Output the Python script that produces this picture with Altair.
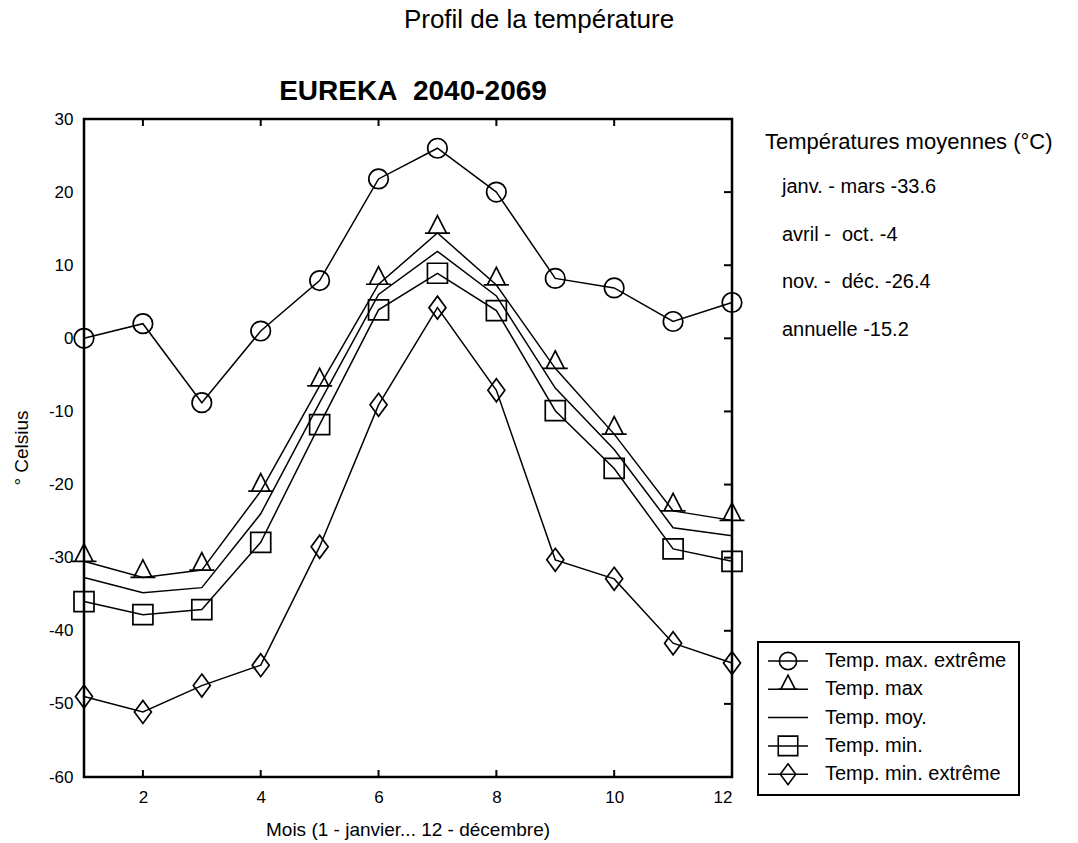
import altair as alt
import pandas as pd

months = list(range(1, 13))
t_max_ext = [0.0, 2.0, -8.8, 1.0, 7.9, 21.8, 26.0, 20.0, 8.2, 6.9, 2.3, 4.9]
t_max = [-30.5, -32.7, -31.7, -20.9, -6.5, 7.4, 14.4, 7.3, -4.1, -13.1, -23.6, -24.9]
t_moy = [-32.7, -34.8, -34.1, -24.0, -8.8, 6.0, 11.9, 5.8, -6.8, -15.2, -25.9, -27.0]
t_min = [-36.0, -37.8, -37.1, -27.9, -11.8, 3.9, 8.9, 3.8, -9.9, -17.8, -28.8, -30.5]
t_min_ext = [-49.0, -51.1, -47.5, -44.7, -28.5, -9.1, 4.2, -7.1, -30.3, -32.9, -41.7, -44.4]

series_names = ["Temp. max. extrême", "Temp. max", "Temp. moy.", "Temp. min.", "Temp. min. extrême"]
series_values = [t_max_ext, t_max, t_moy, t_min, t_min_ext]

x_ticks = [2, 4, 6, 8, 10, 12]
y_ticks = [-60, -50, -40, -30, -20, -10, 0, 10, 20, 30]

main_title = "Profil de la température"
sub_title = "EUREKA\u00a0\u00a02040-2069"
x_title = "Mois (1 - janvier... 12 - décembre)"
y_title = "° Celsius"
info_lines = ["Températures moyennes (°C)", "janv. - mars -33.6", "avril -\u00a0 oct. -4",
              "nov. -\u00a0 déc. -26.4", "annuelle -15.2"]

FONT = "Liberation Sans"
W, H = 648, 658

rows = []
for name, vals in zip(series_names, series_values):
    for m, v in zip(months, vals):
        rows.append({"month": m, "value": v, "series": name})
df = pd.DataFrame(rows)

TRI = "M0,-1.75L0.9,0L-0.9,0ZM-1.25,0L1.25,0"
DIAM = "M0,-1.15L0.85,0L0,1.15L-0.85,0Z"
shapes = {
    "Temp. max. extrême": ("circle", 380),
    "Temp. max": (TRI, 400),
    "Temp. min.": ("square", 400),
    "Temp. min. extrême": (DIAM, 400),
}

xenc = alt.X("month:Q", scale=alt.Scale(domain=[1, 12], nice=False, zero=False),
             axis=alt.Axis(values=x_ticks, title=None, ticks=False, domain=False, grid=False,
                           labelFont=FONT, labelFontSize=17, labelColor="black",
                           labelPadding=12, labelExpr="toString(datum.value)"))
yenc = alt.Y("value:Q", scale=alt.Scale(domain=[-60, 30], nice=False, zero=False),
             axis=alt.Axis(values=y_ticks, title=None, ticks=False, domain=False, grid=False,
                           labelFont=FONT, labelFontSize=17, labelColor="black",
                           labelPadding=11, labelExpr="toString(datum.value)"))

base = alt.Chart(df)
lines = base.mark_line(color="black", strokeWidth=1.5).encode(x=xenc, y=yenc, detail="series:N")

layers = [lines]
for name, (shp, sz) in shapes.items():
    layers.append(
        base.transform_filter(alt.datum.series == name)
        .mark_point(shape=shp, size=sz, filled=False, color="black", strokeWidth=1.7, opacity=1)
        .encode(x="month:Q", y="value:Q")
    )

# inward ticks (top, bottom, right)
xt = alt.Chart(pd.DataFrame({"month": x_ticks[:-1]}))
layers.append(xt.mark_rule(color="black", strokeWidth=2).encode(
    x="month:Q", y=alt.value(0), y2=alt.value(7)))
layers.append(xt.mark_rule(color="black", strokeWidth=2).encode(
    x="month:Q", y=alt.value(H), y2=alt.value(H - 7)))
yt = alt.Chart(pd.DataFrame({"value": y_ticks[1:-1]}))
layers.append(yt.mark_rule(color="black", strokeWidth=2).encode(
    y="value:Q", x=alt.value(W - 8), x2=alt.value(W)))

one = alt.Chart(pd.DataFrame({"a": [0]}))

def text(t, x, y, size, weight="normal", align="center", angle=0):
    return one.mark_text(text=t, font=FONT, fontSize=size, fontWeight=weight, align=align,
                         baseline="middle", color="black", angle=angle).encode(
        x=alt.value(x), y=alt.value(y))

layers.append(text(main_title, 455, -99, 26))
layers.append(text(sub_title, 329, -27, 28, weight="bold"))
layers.append(text(x_title, 324, 711, 19))
layers.append(text(y_title, -62, 329, 19, angle=270))
layers.append(text(info_lines[0], 681, 23, 22, align="left"))
for i, t in enumerate(info_lines[1:]):
    layers.append(text(t, 698, 68 + i * 47.5, 20, align="left"))

# legend box
layers.append(one.mark_rect(fill="white", stroke="black", strokeWidth=2).encode(
    x=alt.value(674), x2=alt.value(935), y=alt.value(523), y2=alt.value(676)))
leg_shapes = {
    "Temp. max. extrême": ("circle", 300),
    "Temp. max": (TRI, 260),
    "Temp. min.": ("square", 380),
    "Temp. min. extrême": (DIAM, 330),
}
for i, name in enumerate(series_names):
    ly = 542 + i * 28.3
    layers.append(one.mark_rule(color="black", strokeWidth=1.5).encode(
        x=alt.value(684), x2=alt.value(724), y=alt.value(ly)))
    if name in leg_shapes:
        shp, sz = leg_shapes[name]
        layers.append(one.mark_point(shape=shp, size=sz, filled=False, color="black",
                                     strokeWidth=1.6, opacity=1).encode(
            x=alt.value(704), y=alt.value(ly)))
    layers.append(text(name, 741, ly, 20, align="left"))

chart = alt.layer(*layers).properties(
    width=W, height=H,
    autosize=alt.AutoSizeParams(type="none"),
    padding={"left": 84, "top": 119, "right": 346, "bottom": 66},
    background="white",
).configure_view(stroke="black", strokeWidth=2.5)

chart.save("out.html", embed_options={"renderer": "svg", "actions": False})
